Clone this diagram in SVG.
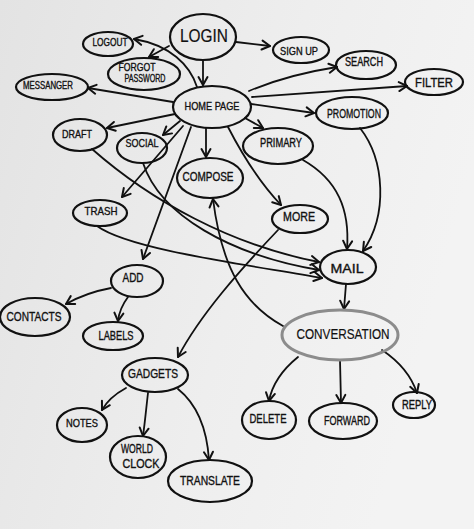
<svg xmlns="http://www.w3.org/2000/svg" width="474" height="529" viewBox="0 0 474 529">
<defs>
<linearGradient id="paper" x1="0" y1="0" x2="1" y2="0.3">
<stop offset="0" stop-color="#e3e3e3"/>
<stop offset="0.6" stop-color="#eeeeee"/>
<stop offset="1" stop-color="#f3f3f3"/>
</linearGradient>
<marker id="arr" markerUnits="userSpaceOnUse" markerWidth="14" markerHeight="14" viewBox="-10 -7 12 14" refX="0" refY="0" orient="auto">
<path d="M-8,-4.5 L0,0 L-8,4.5" fill="none" stroke="#111" stroke-width="2" stroke-linecap="round" stroke-linejoin="round"/>
</marker>
<style>
.n ellipse{fill:none;stroke:#111;stroke-width:2.2}
.n text{font-family:"Liberation Sans",Arial,sans-serif;font-size:11px;fill:#111;stroke:#111;stroke-width:0.35;text-anchor:middle}
.e path{fill:none;stroke:#111;stroke-width:1.8;stroke-linecap:round;marker-end:url(#arr)}
</style>
</defs>
<rect x="0" y="0" width="474" height="529" fill="url(#paper)"/>
<g id="connectors" class="e">
<path d="M203,61 L203,85"/>
<path d="M236,42 L270,46"/>
<path d="M197,87 C190,65 170,45 134,39"/>
<path d="M169,46 L149,57"/>
<path d="M173,102 L88,88"/>
<path d="M175,114 L107,128"/>
<path d="M180,121 L163,135"/>
<path d="M183,126 L122,197"/>
<path d="M191,127 L143,259"/>
<path d="M206,128 L206,157"/>
<path d="M228,127 C245,160 262,185 281,205"/>
<path d="M245,118 L263,128"/>
<path d="M251,104 L314,113"/>
<path d="M252,97 L407,86"/>
<path d="M249,91 C275,80 305,72 337,67"/>
<path d="M360,128 C385,160 388,215 363,251"/>
<path d="M303,160 C338,180 350,210 347,249"/>
<path d="M92,149 C150,200 230,245 319,262"/>
<path d="M143,163 C160,215 230,255 319,270"/>
<path d="M97,226 C130,250 250,265 322,278"/>
<path d="M346,284 L344,309"/>
<path d="M283,326 C245,305 222,270 213,199"/>
<path d="M278,230 C240,270 200,315 178,357"/>
<path d="M111,288 C95,291 80,296 66,304"/>
<path d="M128,297 C122,305 119,312 118,321"/>
<path d="M126,388 C115,394 107,401 102,410"/>
<path d="M148,393 C146,410 145,422 143,436"/>
<path d="M178,389 C198,405 207,430 209,460"/>
<path d="M298,357 C282,370 272,385 269,401"/>
<path d="M340,360 L341,403"/>
<path d="M382,350 C400,362 412,378 417,393"/>
</g>
<g id="login" class="n"><ellipse cx="203" cy="37" rx="33" ry="23"/><text x="204" y="42" textLength="48" lengthAdjust="spacingAndGlyphs" style="font-size:19px;stroke-width:0.2">LOGIN</text></g>
<g id="logout" class="n"><ellipse cx="108" cy="44" rx="25" ry="12"/><text x="110" y="46" textLength="35" lengthAdjust="spacingAndGlyphs" style="font-size:10px">LOGOUT</text></g>
<g id="forgot-password" class="n"><ellipse cx="144" cy="74" rx="36" ry="16"/><text x="137" y="70.5" textLength="37" lengthAdjust="spacingAndGlyphs" style="font-size:10px">FORGOT</text><text x="145" y="81.5" textLength="41" lengthAdjust="spacingAndGlyphs" style="font-size:10px">PASSWORD</text></g>
<g id="messanger" class="n"><ellipse cx="52" cy="87" rx="36" ry="13"/><text x="48" y="88.5" textLength="50" lengthAdjust="spacingAndGlyphs" style="font-size:10.5px">MESSANGER</text></g>
<g id="home-page" class="n"><ellipse cx="212" cy="107" rx="39" ry="21"/><text x="212" y="109.5" textLength="55" lengthAdjust="spacingAndGlyphs" style="font-size:11px">HOME PAGE</text></g>
<g id="draft" class="n"><ellipse cx="80" cy="135" rx="27" ry="16"/><text x="77" y="137.5" textLength="30" lengthAdjust="spacingAndGlyphs">DRAFT</text></g>
<g id="social" class="n"><ellipse cx="142" cy="148" rx="25" ry="15"/><text x="142" y="147" textLength="33" lengthAdjust="spacingAndGlyphs">SOCIAL</text></g>
<g id="compose" class="n"><ellipse cx="210" cy="178" rx="33" ry="20"/><text x="208" y="181" textLength="51" lengthAdjust="spacingAndGlyphs" style="font-size:12px">COMPOSE</text></g>
<g id="sign-up" class="n"><ellipse cx="301" cy="50" rx="28" ry="13"/><text x="299" y="55" textLength="38" lengthAdjust="spacingAndGlyphs">SIGN UP</text></g>
<g id="search" class="n"><ellipse cx="366" cy="65" rx="30" ry="14"/><text x="364" y="66" textLength="38" lengthAdjust="spacingAndGlyphs" style="font-size:12px">SEARCH</text></g>
<g id="filter" class="n"><ellipse cx="434" cy="82" rx="29" ry="13"/><text x="434" y="86.5" textLength="38" lengthAdjust="spacingAndGlyphs" style="font-size:12.5px">FILTER</text></g>
<g id="promotion" class="n"><ellipse cx="352" cy="113" rx="36" ry="16"/><text x="354" y="117.5" textLength="54" lengthAdjust="spacingAndGlyphs" style="font-size:12px">PROMOTION</text></g>
<g id="primary" class="n"><ellipse cx="278" cy="146" rx="35" ry="18"/><text x="281" y="146.5" textLength="42" lengthAdjust="spacingAndGlyphs" style="font-size:12px">PRIMARY</text></g>
<g id="more" class="n"><ellipse cx="300" cy="219" rx="28" ry="14"/><text x="299" y="220.5" textLength="32" lengthAdjust="spacingAndGlyphs" style="font-size:13px">MORE</text></g>
<g id="mail" class="n"><ellipse cx="348" cy="267" rx="28" ry="17"/><text x="347" y="272.5" textLength="33" lengthAdjust="spacingAndGlyphs" style="font-size:12.5px">MAIL</text></g>
<g id="conversation" class="n"><ellipse cx="340" cy="335" rx="58" ry="25" style="stroke:#8c8c8c;stroke-width:3"/><text x="343" y="338.5" textLength="93" lengthAdjust="spacingAndGlyphs" style="font-size:15px;stroke-width:0.2">CONVERSATION</text></g>
<g id="trash" class="n"><ellipse cx="100" cy="213" rx="27" ry="13"/><text x="101" y="214.5" textLength="33" lengthAdjust="spacingAndGlyphs">TRASH</text></g>
<g id="add" class="n"><ellipse cx="137" cy="281" rx="26" ry="16"/><text x="133" y="281.5" textLength="21" lengthAdjust="spacingAndGlyphs" style="font-size:12.5px">ADD</text></g>
<g id="contacts" class="n"><ellipse cx="35" cy="317" rx="35" ry="19"/><text x="34" y="320.5" textLength="55" lengthAdjust="spacingAndGlyphs" style="font-size:13px">CONTACTS</text></g>
<g id="labels" class="n"><ellipse cx="113" cy="336" rx="30" ry="14"/><text x="116" y="339.5" textLength="35" lengthAdjust="spacingAndGlyphs" style="font-size:12px">LABELS</text></g>
<g id="gadgets" class="n"><ellipse cx="155" cy="375" rx="33" ry="17"/><text x="153" y="377.5" textLength="50" lengthAdjust="spacingAndGlyphs" style="font-size:12.5px">GADGETS</text></g>
<g id="notes" class="n"><ellipse cx="82" cy="425" rx="25" ry="17"/><text x="82" y="426.5" textLength="32" lengthAdjust="spacingAndGlyphs">NOTES</text></g>
<g id="world-clock" class="n"><ellipse cx="138" cy="457" rx="28" ry="21"/><text x="137" y="452.5" textLength="32" lengthAdjust="spacingAndGlyphs" style="font-size:12px">WORLD</text><text x="141" y="467.5" textLength="37" lengthAdjust="spacingAndGlyphs" style="font-size:12px">CLOCK</text></g>
<g id="translate" class="n"><ellipse cx="210" cy="481" rx="42" ry="21"/><text x="210" y="484.5" textLength="60" lengthAdjust="spacingAndGlyphs" style="font-size:12.5px">TRANSLATE</text></g>
<g id="delete" class="n"><ellipse cx="269" cy="420" rx="27" ry="19"/><text x="268" y="422.5" textLength="37" lengthAdjust="spacingAndGlyphs" style="font-size:12.5px">DELETE</text></g>
<g id="forward" class="n"><ellipse cx="343" cy="421" rx="34" ry="18"/><text x="347" y="424.5" textLength="46" lengthAdjust="spacingAndGlyphs" style="font-size:12px">FORWARD</text></g>
<g id="reply" class="n"><ellipse cx="414" cy="405" rx="21" ry="13"/><text x="417" y="408.5" textLength="30" lengthAdjust="spacingAndGlyphs" style="font-size:12px">REPLY</text></g>
</svg>
